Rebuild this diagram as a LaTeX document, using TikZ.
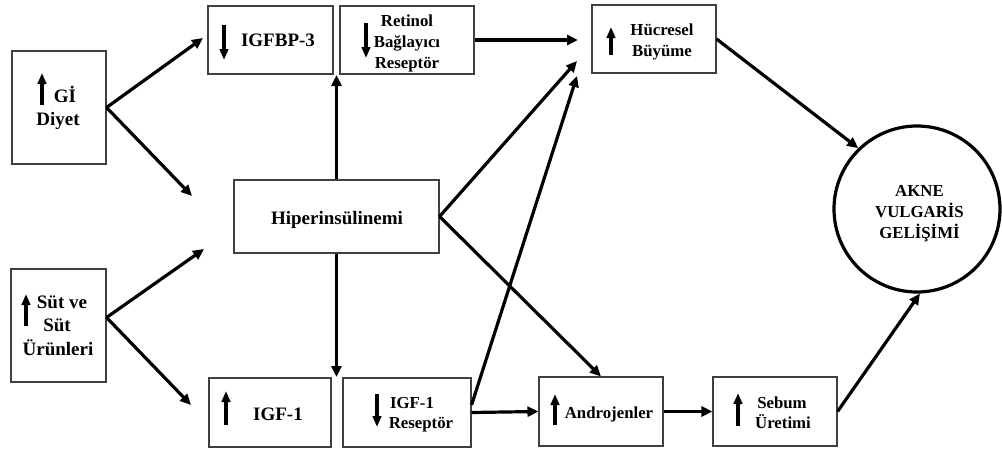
\documentclass[tikz,border=0pt]{standalone}
\usepackage{fontspec}
\setmainfont{Liberation Serif}
\usetikzlibrary{arrows.meta}
\begin{document}
\begin{tikzpicture}[x=1pt,y=-1pt,
  box/.style={draw=black!75, line width=1.1pt, inner sep=0pt},
  big/.style={font=\fontsize{19}{23}\selectfont\bfseries, anchor=base, inner sep=0pt},
  med/.style={font=\fontsize{16.8}{21}\selectfont\bfseries, anchor=base, inner sep=0pt},
  conn/.style={line width=3.2pt, -{Triangle[length=11pt,width=10pt]}},
  updown/.style={line width=3.3pt, -{Triangle[length=11pt,width=8.5pt]}},
  ring/.style={draw, line width=3.2pt, circle, minimum size=166pt, inner sep=0pt}
]
\useasboundingbox (0,0) rectangle (1002,450);

% boxes
\node[box, minimum width=94pt, minimum height=113pt] (gi) at (59,107.5) {};
\node[box, minimum width=125pt, minimum height=68pt] (igfbp) at (270.5,40) {};
\node[box, minimum width=134pt, minimum height=68pt] (ret) at (407,40) {};
\node[box, minimum width=124pt, minimum height=68pt] (huc) at (654,39) {};
\node[box, minimum width=205pt, minimum height=73pt] (hip) at (336.5,216.5) {};
\node[box, minimum width=95pt, minimum height=113pt] (sut) at (58.5,325.5) {};
\node[box, minimum width=122pt, minimum height=69pt] (igf) at (270,412.5) {};
\node[box, minimum width=128pt, minimum height=69pt] (igfr) at (407,412.5) {};
\node[box, minimum width=124pt, minimum height=69pt] (andro) at (601,411.5) {};
\node[box, minimum width=124pt, minimum height=69pt] (sebum) at (775,411.5) {};
\node[ring] (akne) at (917,209) {};

% texts
\node[big] (t1) at (65,102) {Gİ};
\node[big] (t2) at (58,125.5) {Diyet};
\node[big] (t3) at (278,46.5) {IGFBP-3};
\node[med] (t4) at (407,26.5) {Retinol};
\node[med] (t5) at (407,47.5) {Bağlayıcı};
\node[med] (t6) at (407,68.5) {Reseptör};
\node[med] (t7) at (662,35) {Hücresel};
\node[med] (t8) at (662,56) {Büyüme};
\node[big] (t9) at (337,224) {Hiperinsülinemi};
\node[big] (t10) at (62,308) {Süt ve};
\node[big] (t11) at (57,331) {Süt};
\node[big] (t12) at (58,355) {Ürünleri};
\node[big] (t13) at (278,420) {IGF-1};
\node[med] (t14) at (412,408) {IGF-1};
\node[med] (t15) at (421,428) {Reseptör};
\node[med] (t16) at (609,418) {Androjenler};
\node[med] (t17) at (782,408) {Sebum};
\node[med] (t18) at (783,428) {Üretimi};
\node[med] (t19) at (919.5,196) {AKNE};
\node[med] (t20) at (919.5,217) {VULGARİS};
\node[med] (t21) at (919.5,238) {GELİŞİMİ};

% small up/down arrows
\draw[updown] (42,105) -- (42,73);
\draw[updown] (224,25) -- (224,60);
\draw[updown] (366,23) -- (366,58);
\draw[updown] (611,55) -- (611,27);
\draw[updown] (26,326) -- (26,294);
\draw[updown] (226,425) -- (226,391);
\draw[updown] (377,394) -- (377,427);
\draw[updown] (555,425) -- (555,394);
\draw[updown] (738,426) -- (738,393);

% free ends
\coordinate (c1) at (203,38);
\coordinate (c2) at (192,196);
\coordinate (c3) at (204,249);
\coordinate (c4) at (191,405);
\coordinate (c5) at (336.5,75);
\coordinate (c6) at (336.5,377);
\coordinate (c7) at (578,40);
\coordinate (c8) at (577,61);
\coordinate (c9) at (577,76);

% connectors
\draw[conn] (gi.east) -- (c1);
\draw[conn] (gi.east) -- (c2);
\draw[conn] ([yshift=8pt]sut.east) -- (c3);
\draw[conn] ([yshift=8pt]sut.east) -- (c4);
\draw[conn] (hip.north) -- (c5);
\draw[conn] (hip.south) -- (c6);
\draw[conn] (ret.east) -- (c7);
\draw[conn] (hip.east) -- (c8);
\draw[conn] ([yshift=7.5pt]igfr.east) -- (c9);
\draw[conn] (hip.east) -- (andro.north);
\draw[conn] (igfr.east) -- (andro.west);
\draw[conn] (andro.east) -- (sebum.west);
\draw[conn] (sebum.east) -- (akne.-88);
\draw[conn] (huc.east) -- (akne.134);
\end{tikzpicture}
\end{document}
